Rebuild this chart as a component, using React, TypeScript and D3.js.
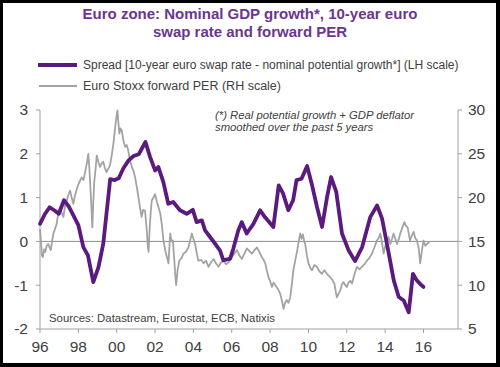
import React from "react";
import * as d3 from "d3";

const titleLines = ["Euro zone: Nominal GDP growth*, 10-year euro", "swap rate and forward PER"];
const legendLabels = [
  "Spread [10-year euro swap rate - nominal potential growth*] (LH scale)",
  "Euro Stoxx forward PER (RH scale)",
];
const noteLines = ["(*) Real potential growth + GDP deflator", "smoothed over the past 5 years"];
const sourceText = "Sources: Datastream, Eurostat, ECB, Natixis";

const spreadYears = [
  1996.0, 1996.25, 1996.5, 1996.78, 1996.98, 1997.25, 1997.5, 1997.78, 1998.0, 1998.26, 1998.5, 1998.78,
  1999.05, 1999.3, 1999.66, 1999.9, 2000.1, 2000.35, 2000.62, 2000.88, 2001.15, 2001.5, 2001.74, 2002.0,
  2002.17, 2002.43, 2002.69, 2002.95, 2003.3, 2003.65, 2003.97, 2004.17, 2004.44, 2004.61, 2004.87, 2005.13,
  2005.39, 2005.56, 2005.91, 2006.08, 2006.34, 2006.52, 2006.78, 2007.13, 2007.48, 2007.74, 2008.17, 2008.45,
  2008.68, 2008.95, 2009.2, 2009.38, 2009.64, 2009.93, 2010.19, 2010.45, 2010.71, 2010.97, 2011.18, 2011.45,
  2011.75, 2012.1, 2012.43, 2012.8, 2013.23, 2013.58, 2013.84, 2014.19, 2014.45, 2014.71, 2014.97, 2015.23,
  2015.45, 2015.65, 2015.85, 2016.0,
];
const spreadValues = [
  0.4, 0.62, 0.78, 0.7, 0.63, 0.94, 0.8, 0.56, 0.37, -0.13, -0.32, -0.93,
  -0.59, -0.05, 1.42, 1.4, 1.44, 1.67, 1.85, 1.95, 1.99, 2.27, 1.93, 1.62,
  1.7, 1.36, 0.86, 0.9, 0.71, 0.63, 0.72, 0.44, 0.48, 0.25, 0.1, -0.05,
  -0.21, -0.43, -0.4, -0.17, 0.25, 0.44, 0.18, 0.4, 0.71, 0.55, 0.33, 1.28,
  1.09, 0.71, 0.94, 1.4, 1.43, 1.72, 1.28, 0.78, 0.33, 1.01, 1.47, 1.13,
  0.18, -0.21, -0.45, -0.13, 0.56, 0.82, 0.52, -0.28, -0.89, -1.27, -1.35, -1.62,
  -0.74, -0.89, -0.98, -1.04,
];

const perYears = [
  1996.0, 1996.05, 1996.1, 1996.15, 1996.22, 1996.28, 1996.35, 1996.43, 1996.5, 1996.56, 1996.63, 1996.7,
  1996.78, 1996.87, 1996.95, 1997.04, 1997.12, 1997.22, 1997.3, 1997.4, 1997.48, 1997.57, 1997.65, 1997.74,
  1997.82, 1997.9, 1998.0, 1998.1, 1998.18, 1998.27, 1998.35, 1998.45, 1998.52, 1998.57, 1998.62, 1998.68,
  1998.73, 1998.78, 1998.83, 1998.9, 1998.96, 1999.05, 1999.13, 1999.22, 1999.3, 1999.38, 1999.47, 1999.56,
  1999.65, 1999.74, 1999.83, 1999.92, 2000.0, 2000.04, 2000.09, 2000.14, 2000.2, 2000.26, 2000.35, 2000.44,
  2000.52, 2000.6, 2000.7, 2000.79, 2000.88, 2000.96, 2001.05, 2001.13, 2001.22, 2001.3, 2001.38, 2001.48,
  2001.56, 2001.62, 2001.66, 2001.72, 2001.78, 2001.83, 2001.92, 2002.0, 2002.1, 2002.18, 2002.27, 2002.35,
  2002.44, 2002.53, 2002.62, 2002.7, 2002.79, 2002.86, 2002.93, 2003.0, 2003.06, 2003.1, 2003.18, 2003.27,
  2003.38, 2003.48, 2003.6, 2003.74, 2003.84, 2003.92, 2004.0, 2004.09, 2004.18, 2004.26, 2004.4, 2004.53,
  2004.66, 2004.79, 2004.92, 2005.05, 2005.18, 2005.31, 2005.44, 2005.57, 2005.7, 2005.83, 2006.0, 2006.13,
  2006.27, 2006.4, 2006.53, 2006.66, 2006.79, 2006.92, 2007.05, 2007.18, 2007.31, 2007.44, 2007.57, 2007.66,
  2007.75, 2007.84, 2007.92, 2008.0, 2008.1, 2008.18, 2008.27, 2008.4, 2008.53, 2008.62, 2008.7, 2008.78,
  2008.87, 2008.96, 2009.05, 2009.14, 2009.22, 2009.31, 2009.4, 2009.48, 2009.57, 2009.64, 2009.71, 2009.78,
  2009.83, 2009.92, 2010.0, 2010.09, 2010.18, 2010.31, 2010.44, 2010.57, 2010.7, 2010.83, 2010.96, 2011.09,
  2011.22, 2011.35, 2011.48, 2011.57, 2011.66, 2011.75, 2011.83, 2011.92, 2012.0, 2012.09, 2012.18, 2012.27,
  2012.36, 2012.45, 2012.53, 2012.66, 2012.79, 2012.92, 2013.05, 2013.18, 2013.31, 2013.44, 2013.57, 2013.66,
  2013.75, 2013.84, 2013.92, 2014.0, 2014.1, 2014.18, 2014.27, 2014.36, 2014.44, 2014.53, 2014.62, 2014.7,
  2014.79, 2014.9, 2015.0, 2015.08, 2015.17, 2015.24, 2015.3, 2015.38, 2015.48, 2015.57, 2015.66, 2015.75,
  2015.83, 2015.92, 2016.0, 2016.09, 2016.18, 2016.3,
];
const perValues = [
  16.4, 15.0, 13.4, 13.2, 14.1, 13.8, 14.5, 14.7, 14.3, 14.0, 15.0, 15.9,
  16.4, 17.0, 18.2, 18.9, 18.3, 17.8, 19.0, 19.7, 20.3, 20.8, 20.0, 19.3,
  20.2, 20.8, 21.5, 22.0, 22.3, 22.0, 22.9, 24.0, 25.0, 23.5, 21.5, 19.0,
  16.6, 19.5, 21.8, 23.3, 24.8, 24.0, 23.5, 23.9, 24.1, 23.4, 22.9, 23.3,
  23.7, 24.8, 26.2, 28.0, 29.4, 29.95, 28.5, 27.3, 27.9, 27.7, 26.5, 25.8,
  26.0, 25.4, 24.2, 23.5, 23.0, 22.3, 21.2, 20.1, 18.8, 17.8, 18.6, 18.5,
  16.5, 14.5, 13.8, 16.5, 18.5, 19.7, 20.0, 20.4, 19.5, 18.9, 18.2, 17.0,
  15.1, 14.0, 13.2, 12.5, 15.9, 15.0, 15.1, 13.0, 11.0, 10.0, 11.8, 12.8,
  13.1, 13.6, 13.8, 14.3, 15.2, 15.9, 15.3, 14.7, 13.6, 12.8, 12.9, 12.5,
  12.8, 12.1, 12.6, 13.0, 12.5, 12.1, 12.6, 12.8, 12.4, 12.6, 13.2, 13.6,
  14.0, 13.4, 13.0, 13.6, 14.2, 13.9, 13.6, 14.0, 14.3, 13.8, 13.2, 12.9,
  12.5, 11.6, 10.9, 10.5, 9.8, 10.3, 10.0, 9.6, 9.0, 8.2, 7.3, 8.0,
  8.3, 8.0, 8.6, 10.2, 11.8, 12.8, 13.8, 14.8, 15.9, 15.3, 15.8, 15.0,
  14.7, 13.4, 12.5, 12.0, 11.7, 12.3, 12.1, 11.6, 11.3, 11.7, 11.3, 11.0,
  10.7, 10.2, 8.6, 9.0, 9.4, 10.1, 10.35, 10.0, 9.8, 10.3, 10.5, 10.2,
  10.9, 11.6, 12.1, 11.8, 12.1, 12.4, 12.8, 13.1, 13.6, 14.3, 15.1, 15.4,
  15.9, 14.8, 13.6, 14.4, 15.1, 15.5, 14.7, 15.3, 15.9, 15.3, 14.7, 15.2,
  15.9, 16.6, 17.2, 16.8, 16.6, 15.8, 15.1, 15.6, 16.1, 15.4, 15.1, 14.2,
  12.5, 14.0, 15.1, 14.5, 14.7, 14.9,
];

const leftTicks = [-2, -1, 0, 1, 2, 3];
const rightTicks = [5, 10, 15, 20, 25, 30];
const yearTicks = [1996, 1998, 2000, 2002, 2004, 2006, 2008, 2010, 2012, 2014, 2016];
const yearLabels = ["96", "98", "00", "02", "04", "06", "08", "10", "12", "14", "16"];

const FONT = "Liberation Sans, Arial, sans-serif";
const PURPLE = "#5a1a7e";
const TITLE = "#6b3590";
const GRAY = "#a3a3a3";
const AXIS = "#a0a0a0";
const TEXT = "#404040";

export default function App() {
  const x = d3.scaleLinear().domain([1996, 2017.8]).range([40, 458]);
  const yL = d3.scaleLinear().domain([-2, 3]).range([329, 110]);
  const yR = d3.scaleLinear().domain([5, 30]).range([329, 110]);

  const spreadData = spreadYears.map((yr, i) => [yr, spreadValues[i]] as [number, number]);
  const perData = perYears.map((yr, i) => [yr, perValues[i]] as [number, number]);

  const spreadLine = d3
    .line<[number, number]>()
    .x((d) => x(d[0]))
    .y((d) => yL(d[1]));
  const perLine = d3
    .line<[number, number]>()
    .x((d) => x(d[0]))
    .y((d) => yR(d[1]));

  const [x0, x1] = x.range();
  const [yb, yt] = yL.range();

  return (
    <svg
      width={500}
      height={367}
      style={{ position: "absolute", left: 0, top: 0, display: "block" }}
      fontFamily={FONT}
    >
      <rect x={0} y={0} width={500} height={367} fill="#000" />
      <rect x={3} y={3} width={493} height={360} fill="#fff" />

      {titleLines.map((t, i) => (
        <text
          key={t}
          x={250}
          y={19 + i * 18}
          textAnchor="middle"
          fontSize={15}
          fontWeight="bold"
          fill={TITLE}
        >
          {t}
        </text>
      ))}

      {/* legend */}
      <line x1={38} x2={77} y1={65} y2={65} stroke={PURPLE} strokeWidth={4} />
      <text x={83} y={65} dy="0.35em" fontSize={12} fill={TEXT}>
        {legendLabels[0]}
      </text>
      <line x1={39} x2={77} y1={86} y2={86} stroke={GRAY} strokeWidth={2} />
      <text x={83} y={86} dy="0.35em" fontSize={12.5} fill={TEXT}>
        {legendLabels[1]}
      </text>

      {/* note */}
      {noteLines.map((t, i) => (
        <text
          key={t}
          x={215}
          y={115 + i * 11.7}
          dy="0.35em"
          fontSize={11.3}
          fontStyle="italic"
          fill={TEXT}
        >
          {t}
        </text>
      ))}

      {/* axes */}
      <line x1={x0} x2={x0} y1={yt} y2={yb} stroke={AXIS} strokeWidth={1} />
      <line x1={x1} x2={x1} y1={yt} y2={yb} stroke={AXIS} strokeWidth={1} />
      <line x1={x0} x2={x1} y1={yb} y2={yb} stroke={AXIS} strokeWidth={1} />
      {leftTicks.map((t) => (
        <g key={"l" + t}>
          <line x1={x0 - 4} x2={x0} y1={yL(t)} y2={yL(t)} stroke={AXIS} />
          <text x={28} y={yL(t)} dy="0.35em" textAnchor="end" fontSize={15.5} fill={TEXT}>
            {t}
          </text>
        </g>
      ))}
      {rightTicks.map((t) => (
        <g key={"r" + t}>
          <line x1={x1} x2={x1 + 4} y1={yR(t)} y2={yR(t)} stroke={AXIS} />
          <text x={468} y={yR(t)} dy="0.35em" textAnchor="start" fontSize={15.5} fill={TEXT}>
            {t}
          </text>
        </g>
      ))}
      {yearTicks.map((t, i) => (
        <g key={"x" + t}>
          <line x1={x(t)} x2={x(t)} y1={yb} y2={yb + 4} stroke={AXIS} />
          <text x={x(t)} y={352} textAnchor="middle" fontSize={15.5} fill={TEXT}>
            {yearLabels[i]}
          </text>
        </g>
      ))}

      {/* zero line */}
      <line x1={x0} x2={x1} y1={yL(0)} y2={yL(0)} stroke="#8c8c8c" strokeWidth={1} />

      <path d={perLine(perData) || ""} fill="none" stroke={GRAY} strokeWidth={1.8} strokeLinejoin="round" />
      <path
        d={spreadLine(spreadData) || ""}
        fill="none"
        stroke={PURPLE}
        strokeWidth={3.8}
        strokeLinejoin="round"
        strokeLinecap="round"
      />

      <text x={49} y={318} dy="0.35em" fontSize={11.4} fill={TEXT}>
        {sourceText}
      </text>
    </svg>
  );
}
